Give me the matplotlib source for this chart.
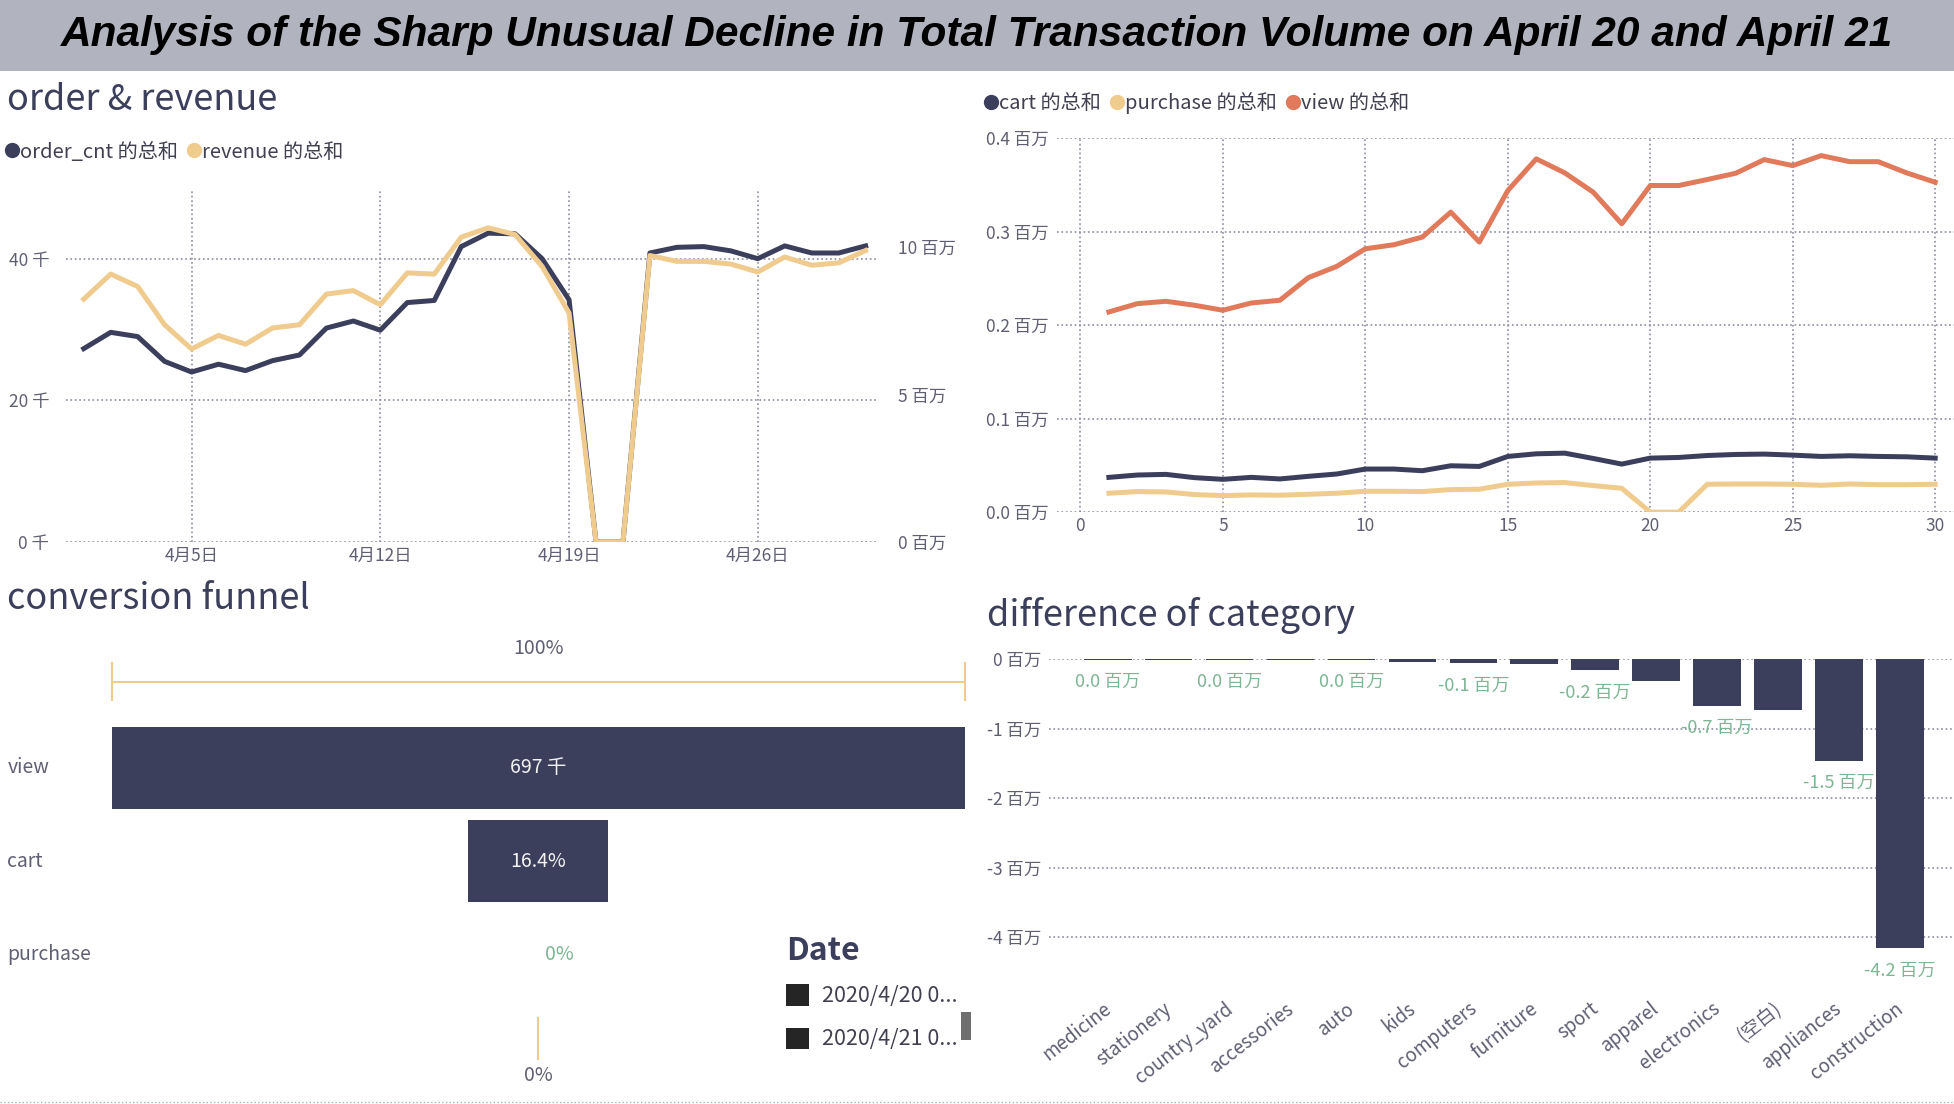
import numpy as np
import matplotlib
matplotlib.use("Agg")
import matplotlib.pyplot as plt
import matplotlib.transforms as mtransforms
from matplotlib.patches import Rectangle
from matplotlib.lines import Line2D

plt.rcParams['font.family'] = ['Noto Sans CJK SC', 'DejaVu Sans']

# ---- data ----
days = np.arange(1, 31)
order_cnt = [27.3, 29.6, 29.0, 25.5, 24.0, 25.1, 24.2, 25.6, 26.4, 30.2,
             31.2, 29.9, 33.8, 34.1, 41.7, 43.6, 43.5, 40.0, 34.2, 0.0,
             0.0, 40.8, 41.6, 41.7, 41.1, 40.0, 41.8, 40.8, 40.8, 41.8]   # thousands
revenue = [8.24, 9.09, 8.67, 7.37, 6.55, 7.01, 6.71, 7.26, 7.37, 8.41,
           8.53, 8.05, 9.13, 9.09, 10.34, 10.66, 10.43, 9.35, 7.77, 0.0,
           0.0, 9.72, 9.52, 9.52, 9.43, 9.16, 9.67, 9.39, 9.47, 9.89]     # millions
date_ticks = [5, 12, 19, 26]
date_labels = ['4月5日', '4月12日', '4月19日', '4月26日']

cart = [0.0372, 0.0397, 0.0404, 0.0369, 0.0351, 0.0372, 0.0355, 0.0383, 0.0408, 0.0461,
        0.0461, 0.0443, 0.0496, 0.0489, 0.0596, 0.0624, 0.0631, 0.0574, 0.0514, 0.0578,
        0.0585, 0.0606, 0.0617, 0.0621, 0.0610, 0.0596, 0.0603, 0.0596, 0.0592, 0.0578]
purchase = [0.0202, 0.0220, 0.0216, 0.0188, 0.0177, 0.0184, 0.0181, 0.0191, 0.0202, 0.0223,
            0.0223, 0.0220, 0.0241, 0.0245, 0.0298, 0.0312, 0.0316, 0.0284, 0.0255, 0.0,
            0.0, 0.0298, 0.0301, 0.0301, 0.0298, 0.0287, 0.0301, 0.0294, 0.0294, 0.0298]
view = [0.2142, 0.2231, 0.2256, 0.2214, 0.2160, 0.2238, 0.2267, 0.2509, 0.2630, 0.2818,
        0.2861, 0.2943, 0.3210, 0.2890, 0.3441, 0.3780, 0.3630, 0.3423, 0.3085, 0.3495,
        0.3495, 0.3559, 0.3626, 0.3772, 0.3708, 0.3815, 0.3750, 0.3750, 0.3630, 0.3530]  # millions

funnel_stages = ['view', 'cart', 'purchase']
funnel_values = [697000, 114300, 0]

slicer_title = 'Date'
slicer_items = ['2020/4/20 0...', '2020/4/21 0...']

categories = ['medicine', 'stationery', 'country_yard', 'accessories', 'auto', 'kids',
              'computers', 'furniture', 'sport', 'apparel', 'electronics', '(空白)',
              'appliances', 'construction']
category_diff = [-0.01, -0.01, -0.01, -0.01, -0.01, -0.04, -0.06, -0.07, -0.16, -0.32,
                 -0.67, -0.73, -1.46, -4.16]   # millions
labelled = [0, 2, 4, 6, 8, 10, 12, 13]

title = ('Analysis of the Sharp Unusual Decline in Total Transaction Volume '
         'on April 20 and April 21')

# ---- style ----
NAVY = '#3B3F5C'
TAN = '#F0CB8E'
ORANGE = '#E07A5A'
GREEN = '#7DB694'
TICK = '#5F5F73'
GRID = '#8C8CA0'

W, H = 1568.0, 886.0   # layout measured on the reference


def box(x0, y0, x1, y1):
    return [x0 / W, 1 - y1 / H, (x1 - x0) / W, (y1 - y0) / H]


def clean(ax):
    for s in ax.spines.values():
        s.set_visible(False)
    ax.tick_params(length=0, labelsize=12.5, labelcolor=TICK)


fig = plt.figure(figsize=(19.54, 11.04), dpi=100)

# title banner
fig.add_artist(Rectangle((0, 1 - 57 / H), 1, 57 / H, transform=fig.transFigure,
                         facecolor='#B1B4BE', edgecolor='none'))
fig.text(0.5, 1 - 28 / H, title, ha='center', va='center', fontsize=30.5,
         fontweight='bold', style='italic', family='Liberation Sans', color='black')

# section titles
fig.text(6 / W, 1 - 80 / H, 'order & revenue', fontsize=26, color=NAVY, va='center')
fig.text(6 / W, 1 - 481 / H, 'conversion funnel', fontsize=26, color=NAVY, va='center')
fig.text(792 / W, 1 - 494 / H, 'difference of category', fontsize=26, color=NAVY, va='center')

# ---- order & revenue ----
ax1 = fig.add_axes(box(52.7, 153, 704.8, 435))
ax1.plot(days, np.array(order_cnt) * 1000, color=NAVY, lw=3.6, solid_joinstyle='round')
ax1.set_xlim(0.33, 30.47)
ax1.set_ylim(0, 49600)
ax1.set_xticks(date_ticks, date_labels)
ax1.set_yticks([0, 20000, 40000], ['0 千', '20 千', '40 千'])
ax1.grid(True, linestyle=':', color=GRID, lw=1.2)
clean(ax1)
ax1.tick_params(axis='y', pad=12)
ax1r = ax1.twinx()
ax1r.plot(days, np.array(revenue) * 1e6, color=TAN, lw=3.6, solid_joinstyle='round')
ax1r.set_ylim(0, 11.92e6)
ax1r.set_yticks([0, 5e6, 10e6], ['0 百万', '5 百万', '10 百万'])
clean(ax1r)
ax1r.tick_params(axis='y', pad=14)

fig.legend(handles=[Line2D([], [], marker='o', ls='', color=NAVY, markersize=10),
                    Line2D([], [], marker='o', ls='', color=TAN, markersize=10)],
           labels=['order_cnt 的总和', 'revenue 的总和'], loc='center left',
           bbox_to_anchor=(5 / W, 1 - 122 / H), ncol=2, frameon=False, fontsize=14.5,
           handlelength=0.6, handletextpad=0.1, columnspacing=0.5, borderpad=0,
           borderaxespad=0, labelcolor='#404050')

# ---- cart / purchase / view ----
ax2 = fig.add_axes(box(848, 111, 1568, 411))
ax2.plot(days, np.array(cart) * 1e6, color=NAVY, lw=3.6, solid_joinstyle='round')
ax2.plot(days, np.array(purchase) * 1e6, color=TAN, lw=3.6, solid_joinstyle='round')
ax2.plot(days, np.array(view) * 1e6, color=ORANGE, lw=3.6, solid_joinstyle='round')
ax2.set_xlim(-0.83, 30.66)
ax2.set_ylim(0, 0.4e6)
ax2.set_xticks(np.arange(0, 31, 5))
yt = np.arange(0, 0.41, 0.1)
ax2.set_yticks(yt * 1e6, [f'{v:.1f} 百万' for v in yt])
ax2.grid(True, linestyle=':', color=GRID, lw=1.2)
clean(ax2)
ax2.tick_params(axis='y', pad=6)

fig.legend(handles=[Line2D([], [], marker='o', ls='', color=c, markersize=10)
                    for c in (NAVY, TAN, ORANGE)],
           labels=['cart 的总和', 'purchase 的总和', 'view 的总和'], loc='center left',
           bbox_to_anchor=(790 / W, 1 - 83 / H), ncol=3, frameon=False, fontsize=14.5,
           handlelength=0.6, handletextpad=0.1, columnspacing=0.5, borderpad=0,
           borderaxespad=0, labelcolor='#404050')

# ---- conversion funnel ----
axf = fig.add_axes(box(90, 505, 774, 875))
vmax = funnel_values[0]
axf.set_xlim(0, vmax)
axf.set_ylim(3.45, -1.48)
axf.axis('off')
for i, v in enumerate(funnel_values):
    axf.barh(i, v, left=(vmax - v) / 2, height=0.88, color=NAVY)
axf.text(vmax / 2, 0, f'{funnel_values[0] / 1000:.0f} 千', ha='center', va='center',
         fontsize=14, color='#F2F2F2')
axf.text(vmax / 2, 1, f'{funnel_values[1] / vmax:.1%}', ha='center', va='center',
         fontsize=14, color='#F2F2F2')
axf.annotate(f'{funnel_values[2] / vmax:.0%}', (vmax / 2, 2), xytext=(15, 0),
             textcoords='offset points', ha='center', va='center', fontsize=14, color=GREEN)
lab_tr = mtransforms.blended_transform_factory(fig.transFigure, axf.transData)
for i, s in enumerate(funnel_stages):
    axf.text(6 / W, i, s, transform=lab_tr, ha='left', va='center', fontsize=14, color=TICK)
# bracket for the first and last stage ratio
axf.plot([0, vmax], [-0.92, -0.92], color=TAN, lw=1.5, clip_on=False)
axf.plot([0, 0], [-1.12, -0.72], color=TAN, lw=1.5, clip_on=False)
axf.plot([vmax, vmax], [-1.12, -0.72], color=TAN, lw=1.5, clip_on=False)
axf.text(vmax / 2, -1.27, f'{funnel_values[0] / vmax:.0%}', ha='center', va='center',
         fontsize=14, color=TICK)
axf.plot([vmax / 2, vmax / 2], [2.68, 3.12], color=TAN, lw=1.5, clip_on=False)
axf.text(vmax / 2, 3.29, f'{funnel_values[-1] / vmax:.0%}', ha='center', va='center',
         fontsize=14, color=TICK)

# date slicer
fig.text(631 / W, 1 - 763 / H, slicer_title, fontsize=23, fontweight='bold', color=NAVY,
         va='center')
for k, item in enumerate(slicer_items):
    y0 = 790 + k * 35
    fig.add_artist(Rectangle((631 / W, 1 - (y0 + 17) / H), 18 / W, 17 / H,
                             transform=fig.transFigure, facecolor='#252525',
                             edgecolor='none'))
    fig.text(660 / W, 1 - (y0 + 9) / H, item, fontsize=15.5, color='#404050', va='center')
fig.add_artist(Rectangle((771 / W, 1 - 835 / H), 8 / W, 23 / H, transform=fig.transFigure,
                         facecolor='#6E6E6E', edgecolor='none'))

# ---- difference of category ----
axd = fig.add_axes(box(842, 529, 1568, 790))
xs = np.arange(len(categories))
diff = np.array(category_diff) * 1e6
axd.bar(xs, diff, width=0.78, color=NAVY, zorder=2)
axd.set_xlim(-0.96, 13.89)
axd.set_ylim(-4.68e6, 0)
yt = np.arange(0, -5, -1)
axd.set_yticks(yt * 1e6, [f'{v} 百万' for v in yt])
axd.set_xticks([])
axd.grid(True, axis='y', linestyle=':', color=GRID, lw=1.2)
clean(axd)
axd.tick_params(axis='y', pad=6)
# rotated category names, anchored just below each bar
cat_tr = mtransforms.blended_transform_factory(axd.transData, axd.transAxes) + \
    mtransforms.ScaledTranslation(-4 / 72, -10 / 72, fig.dpi_scale_trans)
for x, name in zip(xs, categories):
    axd.text(x, 0, name, transform=cat_tr, rotation=38, rotation_mode='anchor',
             ha='right', va='top', fontsize=13.5, color=TICK, clip_on=False)
for i in labelled:
    txt = f'{category_diff[i]:.1f} 百万'.replace('-0.0', '0.0')
    axd.annotate(txt, (xs[i], diff[i]), xytext=(0, -16), textcoords='offset points',
                 ha='center', va='center', fontsize=13, color=GREEN, clip_on=False)

fig.add_artist(Line2D([0, 1], [1 - 884 / H] * 2, transform=fig.transFigure, ls=':',
                      color='#9FB8AC', lw=1))

fig.savefig('out.png', dpi=100)
plt.close(fig)
